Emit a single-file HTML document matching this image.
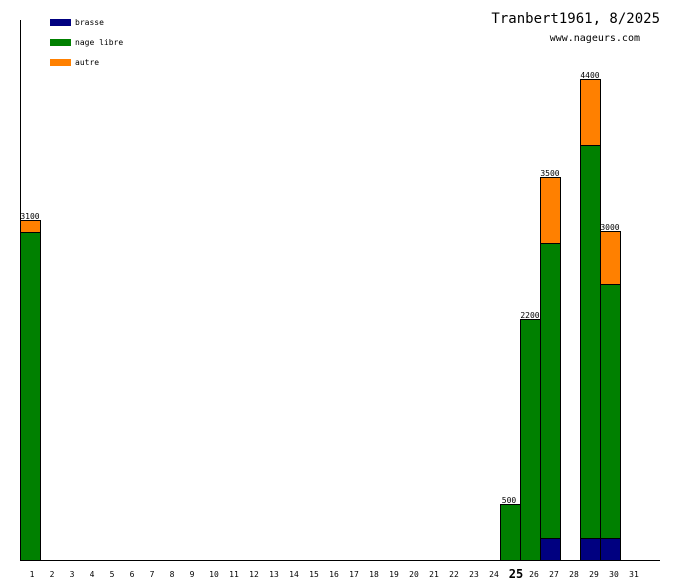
<!DOCTYPE html>
<html><head><meta charset="utf-8"><style>html,body{margin:0;padding:0;background:#fff}svg{display:block}text{font-family:"DejaVu Sans Mono","Liberation Mono",monospace}</style></head>
<body>
<svg width="680" height="580" xmlns="http://www.w3.org/2000/svg">
<rect width="680" height="580" fill="#fff"/>
<line x1="20.5" y1="20" x2="20.5" y2="560" stroke="#000"/>
<line x1="20" y1="560.5" x2="660" y2="560.5" stroke="#000"/>
<rect x="50" y="19" width="21" height="7" fill="#000080"/>
<rect x="50" y="39" width="21" height="7" fill="#008000"/>
<rect x="50" y="59" width="21" height="7" fill="#ff8000"/>
<g font-size="8" fill="#000">
<text x="75" y="25">brasse</text>
<text x="75" y="45">nage libre</text>
<text x="75" y="65">autre</text>
</g>
<text x="660" y="23" font-size="14" text-anchor="end">Tranbert1961, 8/2025</text>
<text x="640" y="41" font-size="10" text-anchor="end">www.nageurs.com</text>
<g stroke="#000" stroke-width="1">
<rect x="20.5" y="232.5" width="20" height="328" fill="#008000"/>
<rect x="20.5" y="220.5" width="20" height="12" fill="#ff8000"/>
<rect x="500.5" y="504.5" width="20" height="56" fill="#008000"/>
<rect x="520.5" y="319.5" width="20" height="241" fill="#008000"/>
<rect x="540.5" y="538.5" width="20" height="22" fill="#000080"/>
<rect x="540.5" y="243.5" width="20" height="295" fill="#008000"/>
<rect x="540.5" y="177.5" width="20" height="66" fill="#ff8000"/>
<rect x="580.5" y="538.5" width="20" height="22" fill="#000080"/>
<rect x="580.5" y="145.5" width="20" height="393" fill="#008000"/>
<rect x="580.5" y="79.5" width="20" height="66" fill="#ff8000"/>
<rect x="600.5" y="538.5" width="20" height="22" fill="#000080"/>
<rect x="600.5" y="284.5" width="20" height="254" fill="#008000"/>
<rect x="600.5" y="231.5" width="20" height="53" fill="#ff8000"/>
</g>
<g font-size="8" text-anchor="middle" fill="#000">
<text x="30" y="219">3100</text>
<text x="509" y="503">500</text>
<text x="530" y="318">2200</text>
<text x="550" y="176">3500</text>
<text x="590" y="78">4400</text>
<text x="610" y="230">3000</text>
</g>
<g font-size="8" text-anchor="middle" fill="#000">
<text x="32" y="577">1</text><text x="52" y="577">2</text><text x="72" y="577">3</text><text x="92" y="577">4</text><text x="112" y="577">5</text><text x="132" y="577">6</text><text x="152" y="577">7</text><text x="172" y="577">8</text><text x="192" y="577">9</text><text x="214" y="577">10</text><text x="234" y="577">11</text><text x="254" y="577">12</text><text x="274" y="577">13</text><text x="294" y="577">14</text><text x="314" y="577">15</text><text x="334" y="577">16</text><text x="354" y="577">17</text><text x="374" y="577">18</text><text x="394" y="577">19</text><text x="414" y="577">20</text><text x="434" y="577">21</text><text x="454" y="577">22</text><text x="474" y="577">23</text><text x="494" y="577">24</text><text x="516" y="578" font-size="12" font-weight="bold">25</text><text x="534" y="577">26</text><text x="554" y="577">27</text><text x="574" y="577">28</text><text x="594" y="577">29</text><text x="614" y="577">30</text><text x="634" y="577">31</text>
</g>
</svg>
</body></html>
